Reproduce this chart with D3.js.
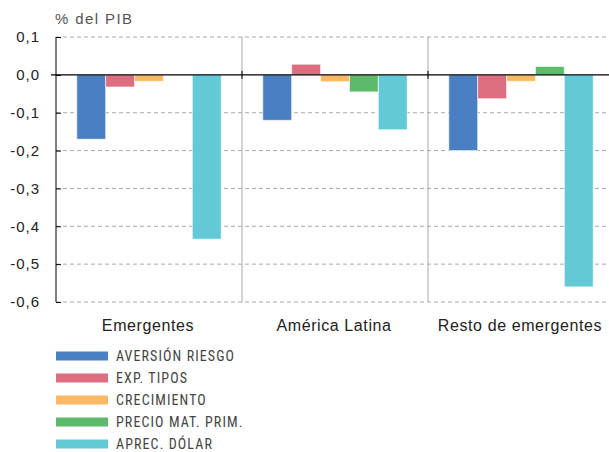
<!DOCTYPE html>
<html>
<head>
<meta charset="utf-8">
<script src="https://cdn.jsdelivr.net/npm/d3@7"></script>
<style>
body { margin: 0; background: #fff; }
svg { display: block; font-family: "Liberation Sans", Arial, sans-serif; }
</style>
</head>
<body>
<div id="chart"></div>
<script>
var width = 609, height = 452;

var groups = ["Emergentes", "América Latina", "Resto de emergentes"];
var series = ["AVERSIÓN RIESGO", "EXP. TIPOS", "CRECIMIENTO", "PRECIO MAT. PRIM.", "APREC. DÓLAR"];
var colors = ["#4a7fc1", "#dc6e80", "#fdb863", "#5cba6a", "#63c9d6"];
var values = [
    [-0.17, -0.032, -0.017, 0.0, -0.434],
    [-0.12, 0.028, -0.018, -0.045, -0.145],
    [-0.20, -0.063, -0.017, 0.022, -0.56]
];
var yTicks = [0.1, 0.0, -0.1, -0.2, -0.3, -0.4, -0.5, -0.6];

var svg = d3.select("#chart").append("svg").attr("width", width).attr("height", height);

var y = d3.scaleLinear().domain([-0.6, 0.1]).range([302, 37]);
var x0 = d3.scaleBand().domain(groups).range([56, 614]);
var x1 = d3.scaleBand().domain(series).range([0, x0.bandwidth()]).paddingOuter(0.72);

var fmt = function(d){ return d3.format(".1f")(d).replace(".", ",").replace("−", "-"); };

// gridlines
svg.append("g").selectAll("line").data(yTicks.filter(function(d){ return d !== 0; }))
    .enter().append("line")
    .attr("x1", 56).attr("x2", width)
    .attr("y1", function(d){ return y(d); }).attr("y2", function(d){ return y(d); })
    .attr("stroke", "#aaa").attr("stroke-dasharray", "4,3");

// group separators
svg.append("g").selectAll("line").data(groups.slice(1))
    .enter().append("line")
    .attr("x1", function(d){ return x0(d); }).attr("x2", function(d){ return x0(d); })
    .attr("y1", 37).attr("y2", 302)
    .attr("stroke", "#aaa");

// bars
var g = svg.append("g").selectAll("g").data(values).enter().append("g")
    .attr("transform", function(d, i){ return "translate(" + x0(groups[i]) + ",0)"; });
g.selectAll("rect").data(function(d){ return d; }).enter().append("rect")
    .attr("x", function(d, j){ return x1(series[j]); })
    .attr("width", x1.bandwidth())
    .attr("y", function(d){ return y(Math.max(0, d)); })
    .attr("height", function(d){ return Math.abs(y(d) - y(0)); })
    .attr("fill", function(d, j){ return colors[j]; })
    .attr("stroke", "#fff").attr("stroke-opacity", 0.6).attr("stroke-width", 1);

// y axis
var yAxis = svg.append("g").attr("transform", "translate(56,0)")
    .call(d3.axisRight(y).tickValues(yTicks).tickSize(5).tickFormat(""));
yAxis.select(".domain").attr("stroke", "#000").attr("d", "M0,37V302");
yAxis.selectAll(".tick line").attr("stroke", "#000");

svg.append("g").selectAll("text").data(yTicks).enter().append("text")
    .attr("x", 40).attr("y", function(d){ return y(d); })
    .attr("dy", "0.35em").attr("text-anchor", "end")
    .attr("font-size", 15).attr("letter-spacing", 1).attr("fill", "#222")
    .text(fmt);

// zero line
svg.append("line").attr("x1", 51).attr("x2", width)
    .attr("y1", y(0)).attr("y2", y(0)).attr("stroke", "#000").attr("stroke-width", 1.3);
svg.append("g").selectAll("line").data(groups.slice(1)).enter().append("line")
    .attr("x1", function(d){ return x0(d); }).attr("x2", function(d){ return x0(d); })
    .attr("y1", y(0) - 4).attr("y2", y(0) + 4).attr("stroke", "#000");

// group labels
svg.append("g").selectAll("text").data(groups).enter().append("text")
    .attr("x", function(d){ return x0(d) + x0.bandwidth() / 2 - 1; })
    .attr("y", 331).attr("text-anchor", "middle")
    .attr("font-size", 16).attr("letter-spacing", 0.6).attr("fill", "#222")
    .text(function(d){ return d; });

// unit
svg.append("text").attr("x", 55).attr("y", 24)
    .attr("font-size", 15).attr("letter-spacing", 1.4).attr("fill", "#555").text("% del PIB");

// legend
var leg = svg.append("g").selectAll("g").data(series).enter().append("g")
    .attr("transform", function(d, i){ return "translate(56," + (356.5 + i * 22) + ")"; });
leg.append("rect").attr("x", 0).attr("y", -5).attr("width", 52).attr("height", 9)
    .attr("fill", function(d, i){ return colors[i]; });
leg.append("text").attr("x", 60).attr("y", 0).attr("dy", "0.33em")
    .attr("font-family", "'Liberation Sans Narrow', 'Roboto Condensed', sans-serif")
    .attr("font-size", 14).attr("letter-spacing", 1.1).attr("fill", "#444")
    .text(function(d){ return d; });
</script>
</body>
</html>
